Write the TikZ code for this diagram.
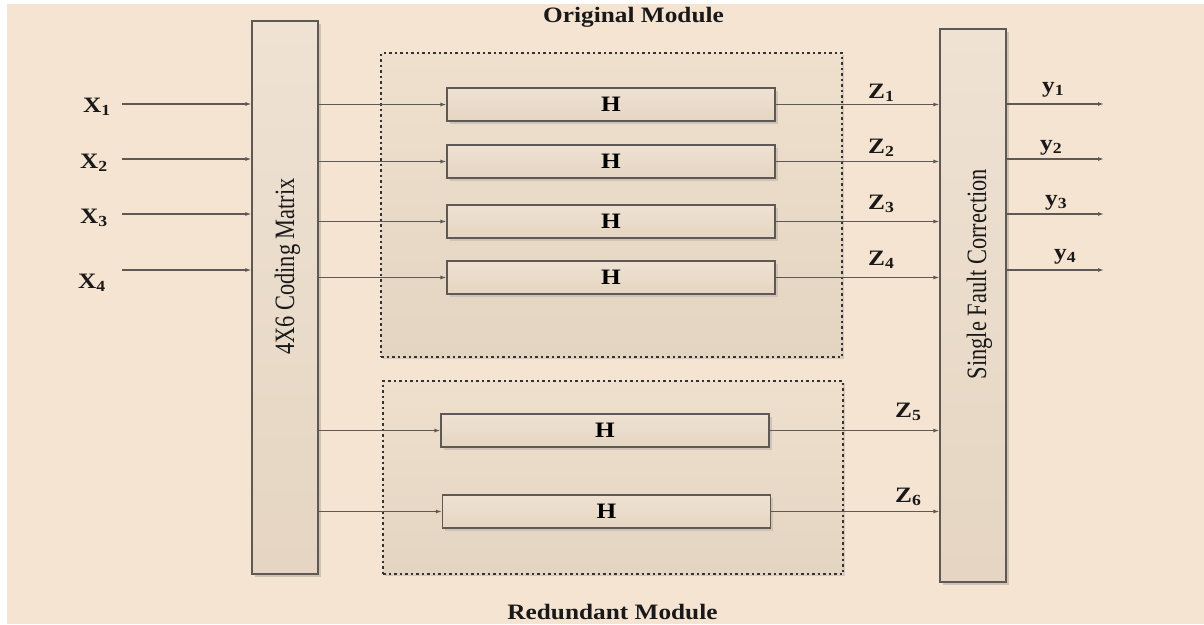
\documentclass[tikz,border=0pt]{standalone}
\usepackage{fontspec}
\usepackage{graphicx}
\setmainfont{Liberation Serif}
\newfontfamily\lblfont[FakeStretch=1.15]{Liberation Serif}
\usetikzlibrary{arrows.meta,shadows}
\definecolor{bgc}{HTML}{F5E4D1}
\definecolor{boxtop}{HTML}{EFE2D3}
\definecolor{boxbot}{HTML}{E5D5C2}
\definecolor{modtop}{HTML}{EFE0CD}
\definecolor{modbot}{HTML}{E4D4C2}
\definecolor{linec}{HTML}{5E5954}
\definecolor{shc}{HTML}{CFC3B6}
\tikzset{
  blk/.style={draw=linec, line width=1.2pt, top color=boxtop, bottom color=boxbot,
    inner sep=0pt, drop shadow={shadow xshift=2.5pt, shadow yshift=-2.5pt, fill=shc, opacity=1}},
  hbox/.style={blk, minimum width=328pt, minimum height=33pt, font=\lblfont\bfseries\fontsize{22}{24}\selectfont},
  module/.style={draw=black!80, line width=1.2pt, dash pattern=on 2.5pt off 3pt,
    top color=modtop, bottom color=modbot, inner sep=0pt,
    drop shadow={shadow xshift=2pt, shadow yshift=-2pt, fill=shc, opacity=0.8}},
  lbl/.style={font=\lblfont\bfseries\fontsize{22}{24}\selectfont, inner sep=0pt, text=black!90},
  rot/.style={rotate=90, font=\fontsize{22.4}{26}\selectfont, inner sep=0pt, text=black!90},
  conn/.style={draw=linec, line width=1.2pt, -{Latex[length=6pt,width=4pt]}},
}
\begin{document}
\begin{tikzpicture}[x=1pt,y=-1pt]
\useasboundingbox (0,0) rectangle (1204,624);
\fill[bgc] (7,4) rectangle (1204,624);

% modules
\node[module, minimum width=461pt, minimum height=304pt] (orig) at (611.5,205) {};
\node[module, minimum width=460pt, minimum height=193pt] (red) at (613,477.5) {};
\node[lbl] (origt) at (633.5,17) {Original Module};
\node[lbl] (redt) at (612.5,612) {Redundant Module};

% big blocks
\node[blk, minimum width=66pt, minimum height=553pt] (cm) at (285,297.5) {};
\node[rot] (cmt) at (287.5,266.5) {\scalebox{1}[1.25]{4X6 Coding Matrix}};
\node[blk, minimum width=66pt, minimum height=553pt] (sfc) at (973,305.5) {};
\node[rot] (sfct) at (979.5,274) {\scalebox{1}[1.25]{Single Fault Correction}};

% H blocks
\node[hbox] (h1) at (611,104.5) {H};
\node[hbox] (h2) at (611,161.5) {H};
\node[hbox] (h3) at (611,221.5) {H};
\node[hbox] (h4) at (611,277.5) {H};
\node[hbox] (h5) at (605,430.5) {H};
\node[hbox] (h6) at (606.5,511.5) {H};

% inputs and outputs
\foreach \i/\y in {1/104,2/159,3/214,4/270}{
  \coordinate (in\i) at (122,\y);
  \draw[conn] (in\i) -- (in\i -| cm.west);
  \coordinate (out\i) at (1104,\y);
  \draw[conn] (out\i -| sfc.east) -- (out\i);
}
\node[lbl, anchor=base west] (x1) at (83,112) {X\textsubscript{1}};
\node[lbl, anchor=base west] (x2) at (80,168) {X\textsubscript{2}};
\node[lbl, anchor=base west] (x3) at (80,223) {X\textsubscript{3}};
\node[lbl, anchor=base west] (x4) at (78,288) {X\textsubscript{4}};

% coding matrix to H, H to SFC
\foreach \i in {1,...,6}{
  \draw[conn] (cm.east |- h\i.west) -- (h\i.west);
  \draw[conn] (h\i.east) -- (h\i.east -| sfc.west);
}
\node[lbl, anchor=base west] (z1) at (868,98) {Z\textsubscript{1}};
\node[lbl, anchor=base west] (z2) at (868,153) {Z\textsubscript{2}};
\node[lbl, anchor=base west] (z3) at (868,209) {Z\textsubscript{3}};
\node[lbl, anchor=base west] (z4) at (868,265) {Z\textsubscript{4}};
\node[lbl, anchor=base west] (z5) at (895,417) {Z\textsubscript{5}};
\node[lbl, anchor=base west] (z6) at (895,502) {Z\textsubscript{6}};

\node[lbl, anchor=base west] (y1) at (1042,92) {y\textsubscript{1}};
\node[lbl, anchor=base west] (y2) at (1040,150) {y\textsubscript{2}};
\node[lbl, anchor=base west] (y3) at (1045,205) {y\textsubscript{3}};
\node[lbl, anchor=base west] (y4) at (1054,259) {y\textsubscript{4}};
\end{tikzpicture}
\end{document}
